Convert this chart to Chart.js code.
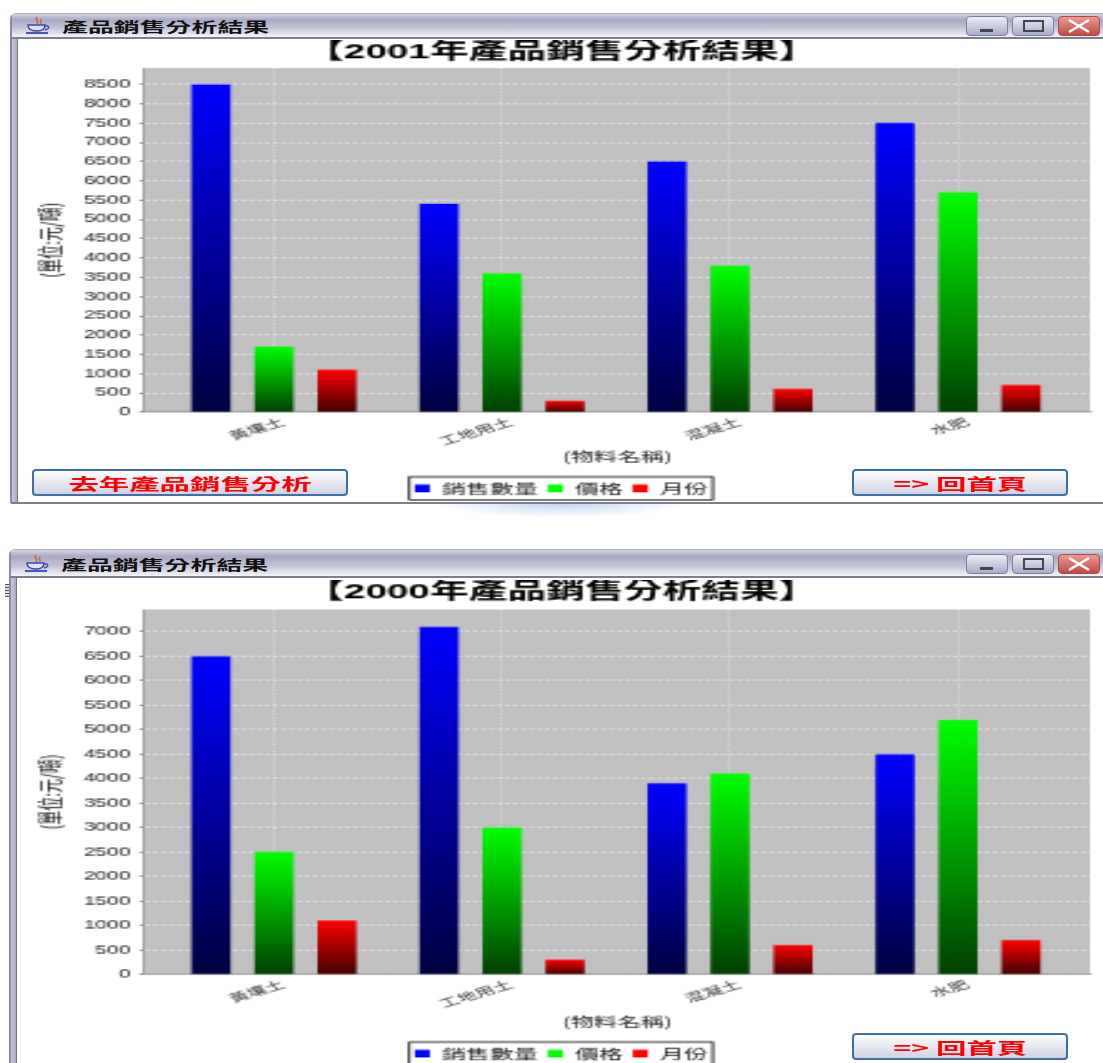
<!DOCTYPE html>
<html lang="zh-Hant">
<head>
<meta charset="utf-8">
<title>產品銷售分析結果</title>
<script src="https://cdn.jsdelivr.net/npm/chart.js@4"></script>
<style>
  html, body { margin: 0; padding: 0; background: #fff; }
  body { position: relative; width: 1103px; height: 1063px; overflow: hidden; font-family: 'Noto Sans CJK TC', sans-serif; }
  .win { position: absolute; left: 10px; right: 0; box-sizing: border-box; border-left: 2px solid #8a8aa6; border-top: 1px solid #a9a9bd; border-top-left-radius: 6px; }
  .win .inner { position: absolute; left: 0; top: 24px; bottom: 0; width: 5px; background: linear-gradient(to right, #c9c9db, #a8a8c2); border-right: 1px solid #777; }
  .bar { position: absolute; left: 0; right: 0; top: 0; height: 23px; border-bottom: 2px solid #7d7f8f; background: linear-gradient(to bottom, #d5d5e3 0, #a9a9c4 25%, #c2c2d6 60%, #f4f4f9 100%); }
  .cap { position: absolute; left: 50px; top: 1px; font-size: 14px; line-height: 22px; font-weight: 700; color: #111; white-space: nowrap; transform: scaleX(1.85); transform-origin: left center; }
  .cup { position: absolute; left: 12px; top: 2px; }
  .wb { position: absolute; top: 2px; width: 42px; height: 20px; box-sizing: border-box; border: 1px solid #7b80a8; border-radius: 4px; background: linear-gradient(to bottom, #eeeef5, #a9abc9); }
  .wb.close { background: linear-gradient(to bottom, #eb9a92, #c14a45); border-color: #a84a4a; }
  .wb svg { position: absolute; left: 0; top: 0; }
  .btn { position: absolute; height: 27px; box-sizing: border-box; border: 2px solid #3f6fa8; border-radius: 4px; background: linear-gradient(to bottom, #fdfdff, #cfd2e3); color: #f00; font-weight: 700; font-size: 16px; line-height: 24px; text-align: center; white-space: nowrap; overflow: hidden; }
  .btn span { display: inline-block; transform: scaleX(1.9); }
  .stretch { position: absolute; left: 20px; transform: scale(2.5, 1.4); transform-origin: left top; }
  .stretch canvas { display: block; }
  .smear { position: absolute; left: 440px; top: 503px; width: 240px; height: 14px; background: radial-gradient(ellipse at center top, #b9d2ee 0, #e6eff9 45%, #fff 75%); }
  .line { position: absolute; left: 11px; right: 0; height: 2px; background: #7d7f8f; }
  .mark { position: absolute; left: 5px; top: 584px; width: 4px; height: 13px; background: repeating-linear-gradient(to bottom, #555 0 1px, #ddd 1px 3px); }
</style>
</head>
<body>
<div class="smear"></div>
<div class="win" style="top:13px;height:490px"><div class="inner"></div><div class="bar" id="bar1"></div></div>
<div class="line" style="top:502px"></div>
<div class="mark"></div>
<div class="win" style="top:549px;left:9px;height:514px"><div class="inner" style="top:27px"></div><div class="bar" id="bar2" style="height:26px"></div></div>

<div class="stretch" style="top:40px"><canvas id="chart2001" width="433" height="335"></canvas></div>
<div class="stretch" style="top:579.5px"><canvas id="chart2000" width="433" height="353"></canvas></div>

<div class="btn" style="left:32px;top:469px;width:316px"><span>去年產品銷售分析</span></div>
<div class="btn" style="left:852px;top:469px;width:216px"><span>=&gt; 回首頁</span></div>
<div class="btn" style="left:852px;top:1033px;width:216px"><span>=&gt; 回首頁</span></div>

<script>
const categories = ['黃壤土', '工地用土', '混凝土', '水肥'];
const seriesNames = ['銷售數量', '價格', '月份'];
const seriesTop = ['#0000ff', '#00ff00', '#ff0000'];
const seriesBottom = ['#000040', '#004000', '#400000'];

const sales2001 = [8500, 5400, 6500, 7500];
const price2001 = [1700, 3600, 3800, 5700];
const month2001 = [1100, 300, 600, 700];

const sales2000 = [6500, 7100, 3900, 4500];
const price2000 = [2500, 3000, 4100, 5200];
const month2000 = [1100, 300, 600, 700];

const yTicks2001 = [0, 500, 1000, 1500, 2000, 2500, 3000, 3500, 4000, 4500, 5000, 5500, 6000, 6500, 7000, 7500, 8000, 8500];
const yTicks2000 = [0, 500, 1000, 1500, 2000, 2500, 3000, 3500, 4000, 4500, 5000, 5500, 6000, 6500, 7000];

const yLabel = '(單位:元/噸)';
const xLabel = '(物料名稱)';
const windowTitle = '產品銷售分析結果';

const latin = "'Liberation Sans', 'Noto Sans CJK TC', sans-serif";
const cjk = "'Noto Sans CJK TC', sans-serif";

// window title bars
function addTitleBar(el, h, shift) {
  const top = h === 26 ? 4 : 2;
  el.innerHTML = `
    <svg class="cup" style="top:${top}px" width="30" height="19" viewBox="0 0 30 19">
      <path d="M13 1c-3 3 3 4 0 7M17 3c-2 2 1 3 0 5" stroke="#d9603a" stroke-width="1.6" fill="none"/>
      <path d="M4 9h17c0 4-3 6-8 6s-9-2-9-6z" fill="#dfe3f4" stroke="#3c46b4" stroke-width="1.4"/>
      <path d="M21 10c5-1 5 3 0 4" stroke="#3c46b4" stroke-width="1.3" fill="none"/>
      <path d="M2 17h22" stroke="#3c46b4" stroke-width="1.8"/>
    </svg>
    <div class="cap" style="top:${h === 26 ? 3 : 1}px">${windowTitle}</div>
    <div class="wb" style="left:${954 + shift}px;top:${top}px"><svg width="40" height="18"><rect x="13" y="12" width="13" height="3" fill="#445"/></svg></div>
    <div class="wb" style="left:${1000 + shift}px;top:${top}px"><svg width="40" height="18"><rect x="11" y="4" width="19" height="10" fill="none" stroke="#445" stroke-width="2"/></svg></div>
    <div class="wb close" style="left:${1046 + shift}px;top:${top}px"><svg width="40" height="18"><path d="M10 3l20 12M30 3L10 15" stroke="#fff" stroke-width="2.6"/></svg></div>`;
}
addTitleBar(document.getElementById('bar1'), 23, 0);
addTitleBar(document.getElementById('bar2'), 26, 1);

// JFreeChart style plot background, legend frame
const plotBackground = {
  id: 'plotBackground',
  beforeDraw(chart) {
    const a = chart.chartArea;
    chart.ctx.save();
    chart.ctx.fillStyle = '#c0c0c0';
    chart.ctx.fillRect(a.left, a.top, a.right - a.left, a.bottom - a.top);
    chart.ctx.restore();
  },
};

const legendFrame = {
  id: 'legendFrame',
  afterDraw(chart) {
    const boxes = chart.legend.legendHitBoxes;
    const left = boxes[0].left - 2.2;
    const last = boxes[boxes.length - 1];
    const right = last.left + last.width + 2;
    const mid = last.top + last.height / 2;
    const ctx = chart.ctx;
    ctx.save();
    ctx.strokeStyle = '#000';
    ctx.lineWidth = 0.8;
    ctx.strokeRect(left, mid - 8.2, right - left, 16.4);
    ctx.restore();
  },
};

function barFill(i) {
  return (c) => {
    if (c.type !== 'data' || !c.parsed) return seriesTop[i];
    const y = c.chart.scales.y;
    const top = y.getPixelForValue(c.parsed.y);
    const bottom = y.getPixelForValue(0);
    // the scale has no pixel range yet on the first pass
    if (!isFinite(top) || !isFinite(bottom)) return seriesTop[i];
    const g = c.chart.ctx.createLinearGradient(0, top, 0, bottom);
    g.addColorStop(0, seriesTop[i]);
    g.addColorStop(1, seriesBottom[i]);
    return g;
  };
}

function drawChart(id, title, rows, yTicks, yMax, xBoxHeight, titleGap, xTitleGap) {
  new Chart(document.getElementById(id), {
    type: 'bar',
    data: {
      datasets: rows.map((values, i) => ({
        label: seriesNames[i],
        data: values.map((v, k) => ({ x: k, y: v })),
        backgroundColor: barFill(i),
        borderWidth: 0,
        categoryPercentage: 0.829,
        barPercentage: 0.619,
      })),
    },
    options: {
      responsive: false,
      animation: false,
      devicePixelRatio: 1,
      layout: { padding: { right: 5, left: 5, top: 0, bottom: 0 } },
      plugins: {
        tooltip: { enabled: false },
        title: {
          display: true,
          text: title,
          color: '#000',
          font: { family: latin, size: 15.5, weight: 'bold', lineHeight: 1 },
          padding: { top: 0.5, bottom: titleGap },
        },
        legend: {
          position: 'bottom',
          labels: {
            boxWidth: 6,
            boxHeight: 5.5,
            padding: 4,
            color: '#111',
            font: { family: cjk, size: 9.6 },
            generateLabels(chart) {
              // flat swatches, the gradient only belongs on the bars
              return Chart.defaults.plugins.legend.labels.generateLabels(chart)
                .map((item, i) => ({ ...item, fillStyle: seriesTop[i] }));
            },
          },
        },
      },
      scales: {
        x: {
          type: 'linear',
          bounds: 'data',
          offset: false,
          min: -0.568,
          max: 3.579,
          afterBuildTicks(scale) {
            scale.ticks = categories.map((_, k) => ({ value: k }));
          },
          afterFit(scale) { scale.height = xBoxHeight; },
          grid: { offset: false, color: 'rgba(255,255,255,0.8)', lineWidth: 0.5, drawTicks: false },
          border: { color: '#8c8c8c', width: 0.8, dash: [1, 1.4] },
          ticks: {
            autoSkip: false,
            minRotation: 28,
            maxRotation: 28,
            padding: 2,
            labelOffset: 3.6,
            color: '#333',
            font: { family: cjk, size: 8 },
            callback: (v) => categories[v],
          },
          title: {
            display: true,
            text: xLabel,
            color: '#222',
            font: { family: cjk, size: 9.4 },
            padding: { top: 0, bottom: xTitleGap },
          },
        },
        y: {
          min: 0,
          max: yMax,
          afterBuildTicks(scale) {
            scale.ticks = yTicks.map((value) => ({ value }));
          },
          afterFit(scale) { scale.width = 44.8; },
          grid: { color: 'rgba(255,255,255,0.7)', lineWidth: 0.7, tickColor: '#666', tickWidth: 0.8, tickLength: 2 },
          border: { color: '#8c8c8c', width: 0.8, dash: [2, 1.2] },
          ticks: {
            padding: 3.5,
            color: '#222',
            font: { family: latin, size: 8.5 },
            callback: (v) => String(v),
          },
          title: {
            display: true,
            text: yLabel,
            color: '#111',
            font: { family: cjk, size: 10 },
            padding: 1.6,
          },
        },
      },
    },
    plugins: [plotBackground, legendFrame],
  });
}

drawChart('chart2001', '【2001年產品銷售分析結果】', [sales2001, price2001, month2001], yTicks2001, 8925, 45.5, 4, 8);
drawChart('chart2000', '【2000年產品銷售分析結果】', [sales2000, price2000, month2000], yTicks2000, 7455, 47.6, 5, 8.7);
</script>
</body>
</html>
